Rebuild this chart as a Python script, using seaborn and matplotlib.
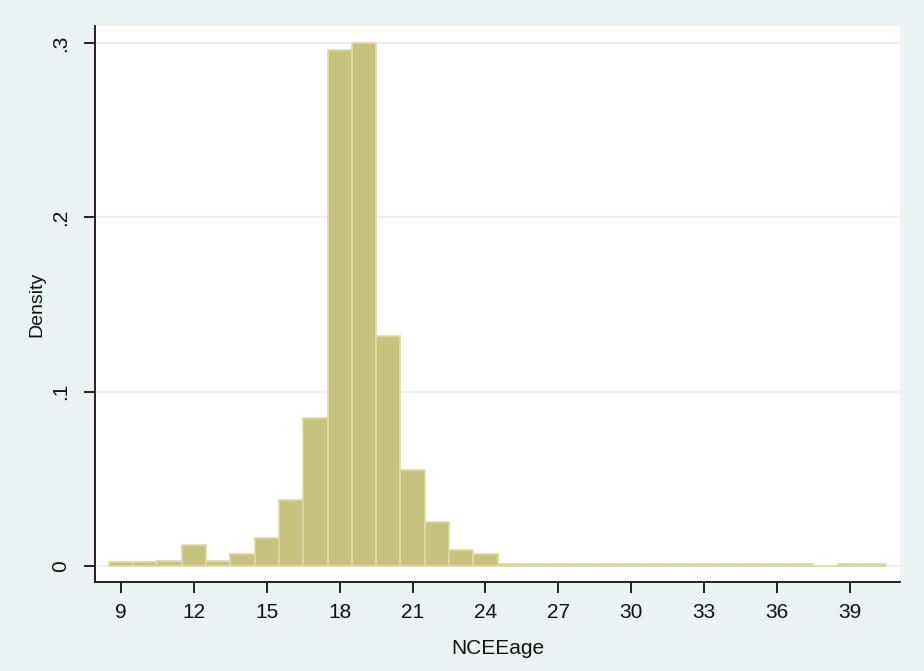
import numpy as np
import pandas as pd
import matplotlib
matplotlib.use("Agg")
import matplotlib.pyplot as plt
import seaborn as sns

# Bin centres (ages) and density heights
ages = [9, 10, 11, 12, 13, 14, 15, 16, 17, 18, 19, 20, 21, 22, 23, 24,
        25, 26, 27, 28, 29, 30, 31, 32, 33, 34, 35, 36, 37, 38, 39, 40]
density = [0.002, 0.002, 0.003, 0.012, 0.003, 0.007, 0.016, 0.038, 0.085,
           0.296, 0.300, 0.132, 0.055, 0.025, 0.009, 0.007,
           0.0012, 0.0012, 0.0012, 0.0012, 0.0012, 0.0012, 0.0012, 0.0012,
           0.0012, 0.0012, 0.0012, 0.0012, 0.0012, 0.0, 0.0012, 0.0012]
x_ticks = [9, 12, 15, 18, 21, 24, 27, 30, 33, 36, 39]
y_ticks = [0, 0.1, 0.2, 0.3]
y_ticklabels = ["0", ".1", ".2", ".3"]

df = pd.DataFrame({"NCEEage": ages, "w": density})

sns.set_theme(style="white")
plt.rcParams["font.family"] = ["Liberation Sans Narrow", "Liberation Sans", "DejaVu Sans"]

bg = "#EAF2F3"
fig = plt.figure(figsize=(9.24, 6.71), dpi=100, facecolor=bg)
ax = fig.add_axes([95/924, 1-582/671, (900-95)/924, (582-26)/671])
ax.set_facecolor("white")

for yt in y_ticks:
    ax.axhline(yt, color=bg, lw=1.5, zorder=0)

sns.histplot(data=df, x="NCEEage", weights="w", binwidth=1.0,
             binrange=(8.5, 40.5), stat="count",
             color="#C8C27F", edgecolor="#DDD8A8", linewidth=1.2, alpha=1,
             ax=ax)

ax.set_xlim(7.93, 41.06)
ax.set_ylim(-0.0092, 0.3098)
ax.set_xticks(x_ticks)
ax.set_xticklabels([str(t) for t in x_ticks])
ax.set_yticks(y_ticks)
ax.set_yticklabels(y_ticklabels, rotation=90, va="center")

for s in ["top", "right"]:
    ax.spines[s].set_visible(False)
for s in ["left", "bottom"]:
    ax.spines[s].set_color("#111111")
    ax.spines[s].set_linewidth(1.3)

ax.tick_params(axis="both", which="major", direction="out", length=8,
               width=1.3, color="#111111", labelsize=15, labelcolor="#111111",
               bottom=True, left=True)
ax.tick_params(axis="x", pad=7)
ax.tick_params(axis="y", pad=10)

ax.set_xlabel("NCEEage", fontsize=15, color="#111111", labelpad=12)
ax.set_ylabel("Density", fontsize=14, color="#111111", labelpad=4)

fig.savefig("out.png", dpi=100, facecolor=bg)
